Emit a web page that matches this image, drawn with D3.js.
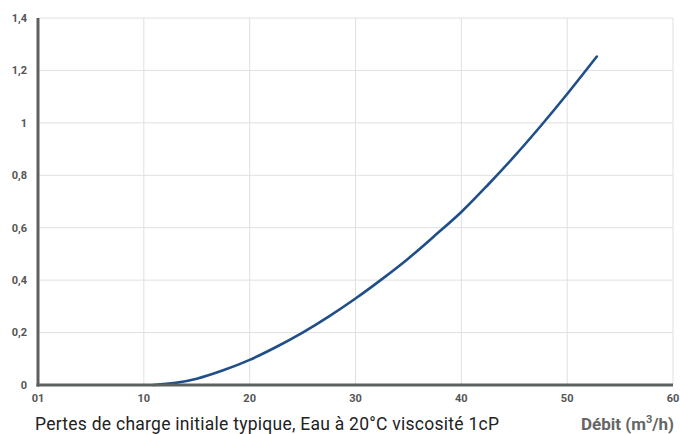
<!DOCTYPE html>
<html>
<head>
<meta charset="utf-8">
<script src="https://cdn.jsdelivr.net/npm/d3@7"></script>
<style>
  body { margin: 0; background: #fff; }
  svg { display: block; font-family: Roboto, "Noto Sans", sans-serif; }
</style>
</head>
<body>
<script>
  // débit (m3/h) et pertes de charge
  const debit = [10.9, 13, 15, 17.5, 20, 22.5, 25, 27.5, 30, 32.5, 35, 37.5, 40, 42.5, 45, 47.5, 50, 52.8];
  const pertes = [0, 0.008, 0.024, 0.056, 0.096, 0.145, 0.2, 0.262, 0.33, 0.404, 0.483, 0.57, 0.66, 0.763, 0.872, 0.988, 1.11, 1.253];
  const xTicks = [0, 10, 20, 30, 40, 50, 60];
  const xTickLabels = ['01', '10', '20', '30', '40', '50', '60'];
  const yTicks = [0, 0.2, 0.4, 0.6, 0.8, 1, 1.2, 1.4];
  const title = 'Pertes de charge initiale typique, Eau à 20°C viscosité 1cP';

  const width = 680;
  const height = 434;

  const x = d3.scaleLinear().domain([0, 60]).range([38, 673]);
  const y = d3.scaleLinear().domain([0, 1.4]).range([385, 18]);

  const svg = d3.select('body').append('svg')
    .attr('width', width)
    .attr('height', height);

  // grille
  svg.append('g')
    .selectAll('line')
    .data(yTicks.slice(1))
    .enter().append('line')
    .attr('x1', x(0)).attr('x2', x(60))
    .attr('y1', d => y(d)).attr('y2', d => y(d))
    .attr('stroke', '#e0e0e0').attr('stroke-width', 1);

  svg.append('g')
    .selectAll('line')
    .data(xTicks.slice(1))
    .enter().append('line')
    .attr('x1', d => x(d)).attr('x2', d => x(d))
    .attr('y1', y(1.4)).attr('y2', y(0))
    .attr('stroke', '#e0e0e0').attr('stroke-width', 1);

  // courbe
  const line = d3.line()
    .x((d, i) => x(debit[i]))
    .y(d => y(d))
    .curve(d3.curveCatmullRom);

  svg.append('path')
    .datum(pertes)
    .attr('d', line)
    .attr('fill', 'none')
    .attr('stroke', '#1f4e89')
    .attr('stroke-width', 2.6)
    .attr('stroke-linecap', 'round');

  // axes
  svg.append('line')
    .attr('x1', x(0)).attr('x2', x(0))
    .attr('y1', y(1.4)).attr('y2', y(0) + 1.5)
    .attr('stroke', '#5d625f').attr('stroke-width', 3);
  svg.append('line')
    .attr('x1', x(0) - 1.5).attr('x2', x(60))
    .attr('y1', y(0)).attr('y2', y(0))
    .attr('stroke', '#5d625f').attr('stroke-width', 3);

  svg.append('g')
    .selectAll('text')
    .data(yTicks)
    .enter().append('text')
    .attr('x', 27)
    .attr('y', d => y(d))
    .attr('dy', '0.35em')
    .attr('text-anchor', 'end')
    .attr('font-size', 11)
    .attr('font-weight', 'bold')
    .attr('fill', '#555')
    .text(d => d3.format(',')(d).replace('.', ','));

  svg.append('g')
    .selectAll('text')
    .data(xTicks)
    .enter().append('text')
    .attr('x', d => x(d))
    .attr('y', 402)
    .attr('text-anchor', 'middle')
    .attr('font-size', 11)
    .attr('font-weight', 'bold')
    .attr('fill', '#555')
    .text((d, i) => xTickLabels[i]);

  svg.append('text')
    .attr('x', 35)
    .attr('y', 430)
    .attr('font-size', 17.5)
    .attr('textLength', 464)
    .attr('lengthAdjust', 'spacing')
    .attr('fill', '#222')
    .text(title);

  const unit = svg.append('text')
    .attr('x', 674)
    .attr('y', 430)
    .attr('text-anchor', 'end')
    .attr('font-size', 17)
    .attr('font-weight', 'bold')
    .attr('fill', '#666');
  unit.append('tspan').text('Débit (m');
  unit.append('tspan').attr('font-size', 11).attr('dy', -7).text('3');
  unit.append('tspan').attr('dy', 7).text('/h)');
</script>
</body>
</html>
